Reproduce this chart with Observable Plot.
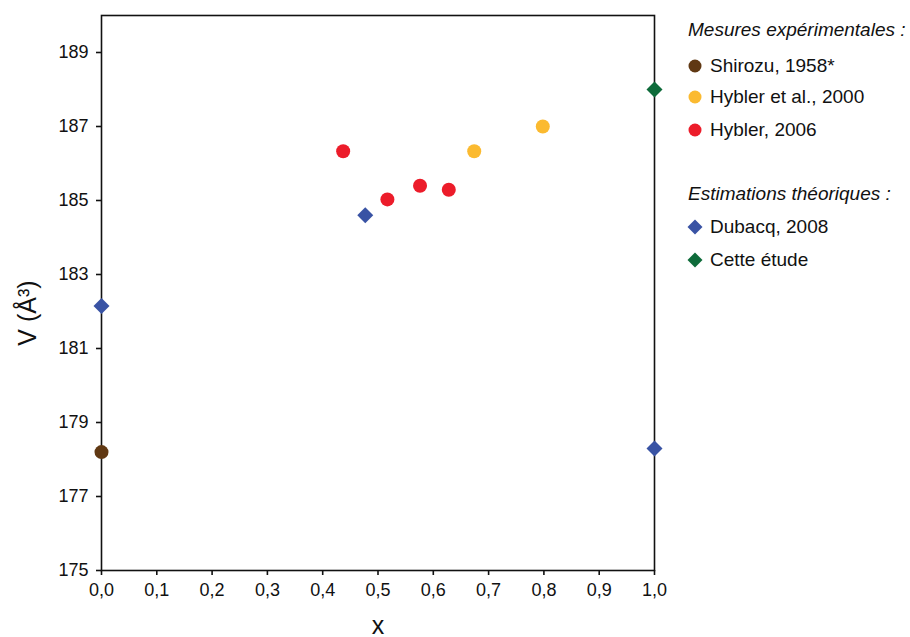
<!DOCTYPE html>
<html>
<head>
<meta charset="utf-8">
<script src="https://cdn.jsdelivr.net/npm/d3@7"></script>
<script src="https://cdn.jsdelivr.net/npm/@observablehq/plot@0.6"></script>
<style>
  html, body { margin: 0; padding: 0; background: white; }
  #wrap { position: relative; width: 910px; height: 637px; font-family: "Liberation Sans", Arial, sans-serif; }
  .lg { position: absolute; left: 686px; font-size: 19px; line-height: 22px; height: 22px; white-space: nowrap; color: #111; display: flex; align-items: center; }
  .lg svg { margin-right: 6px; }
  .hd { font-style: italic; left: 688px; }
</style>
</head>
<body>
<div id="wrap"></div>
<script>
// ---- Data ----
const seriesNames = ["Shirozu, 1958*", "Hybler et al., 2000", "Hybler, 2006", "Dubacq, 2008", "Cette étude"];
const seriesColors = ["#603813", "#FBBA30", "#EC1C2A", "#3953A4", "#0E6B3A"];
const seriesSymbols = ["circle", "circle", "circle", "diamond2", "diamond2"];

const shirozuX = [0.0];
const shirozuV = [178.2];
const hybler2000X = [0.674, 0.798];
const hybler2000V = [186.33, 187.0];
const hybler2006X = [0.437, 0.517, 0.576, 0.628];
const hybler2006V = [186.33, 185.03, 185.4, 185.29];
const dubacqX = [0.0, 0.477, 1.0];
const dubacqV = [182.15, 184.6, 178.3];
const etudeX = [1.0];
const etudeV = [188.0];

const xTicks = [0, 0.1, 0.2, 0.3, 0.4, 0.5, 0.6, 0.7, 0.8, 0.9, 1.0];
const yTicks = [175, 177, 179, 181, 183, 185, 187, 189];

// ---- Build table ----
const seriesX = [shirozuX, hybler2000X, hybler2006X, dubacqX, etudeX];
const seriesV = [shirozuV, hybler2000V, hybler2006V, dubacqV, etudeV];
const rows = [];
seriesNames.forEach((name, i) => {
  seriesX[i].forEach((x, j) => rows.push({series: name, x, v: seriesV[i][j], symbol: seriesSymbols[i]}));
});
const circles = rows.filter(d => d.symbol === "circle");
const diamonds = rows.filter(d => d.symbol === "diamond2");

const fmt = d => d.toFixed(1).replace(".", ",");

const chart = Plot.plot({
  width: 910,
  height: 637,
  marginLeft: 101,
  marginRight: 256,
  marginTop: 15,
  marginBottom: 67,
  x: {domain: [0, 1]},
  y: {domain: [175, 190]},
  color: {domain: seriesNames, range: seriesColors},
  style: {fontFamily: "'Liberation Sans', Arial, sans-serif", fontSize: "18px", color: "#111", background: "white"},
  marks: [
    Plot.frame({stroke: "#111", strokeWidth: 1.6}),
    Plot.axisX({ticks: xTicks, tickFormat: fmt, tickSize: 5, tickPadding: 8, label: null, fontSize: 18, strokeWidth: 1.6}),
    Plot.axisY({ticks: yTicks, tickSize: 5, tickPadding: 8, label: null, fontSize: 18, strokeWidth: 1.6}),
    Plot.text(["x"], {frameAnchor: "bottom", lineAnchor: "middle", dy: 55, fontSize: 25, fill: "#111"}),
    Plot.text(["V (Å³)"], {frameAnchor: "left", textAnchor: "middle", rotate: -90, dx: -74, dy: 20, fontSize: 25, fill: "#111"}),
    Plot.dot(circles, {x: "x", y: "v", fill: "series", r: 7, symbol: "circle"}),
    Plot.dot(diamonds, {x: "x", y: "v", fill: "series", r: 7.2, symbol: "diamond2"})
  ]
});
const wrap = document.getElementById("wrap");
wrap.appendChild(chart);

// ---- Legend ----
const legendRows = [
  {type: "hd", text: "Mesures expérimentales :", cy: 30},
  {type: "item", idx: 0, cy: 66},
  {type: "item", idx: 1, cy: 97},
  {type: "item", idx: 2, cy: 130},
  {type: "hd", text: "Estimations théoriques :", cy: 194},
  {type: "item", idx: 3, cy: 227},
  {type: "item", idx: 4, cy: 260}
];
legendRows.forEach(r => {
  const div = document.createElement("div");
  div.className = "lg" + (r.type === "hd" ? " hd" : "");
  div.style.top = (r.cy - 11) + "px";
  if (r.type === "hd") {
    div.textContent = r.text;
  } else {
    const col = seriesColors[r.idx];
    const sym = seriesSymbols[r.idx];
    const shape = sym === "circle"
      ? `<circle cx="9" cy="9" r="6.5" fill="${col}"/>`
      : `<path d="M9,1.5 L16.5,9 L9,16.5 L1.5,9 Z" fill="${col}"/>`;
    div.innerHTML = `<svg width="18" height="18">${shape}</svg><span>${seriesNames[r.idx]}</span>`;
  }
  wrap.appendChild(div);
});
</script>
</body>
</html>
